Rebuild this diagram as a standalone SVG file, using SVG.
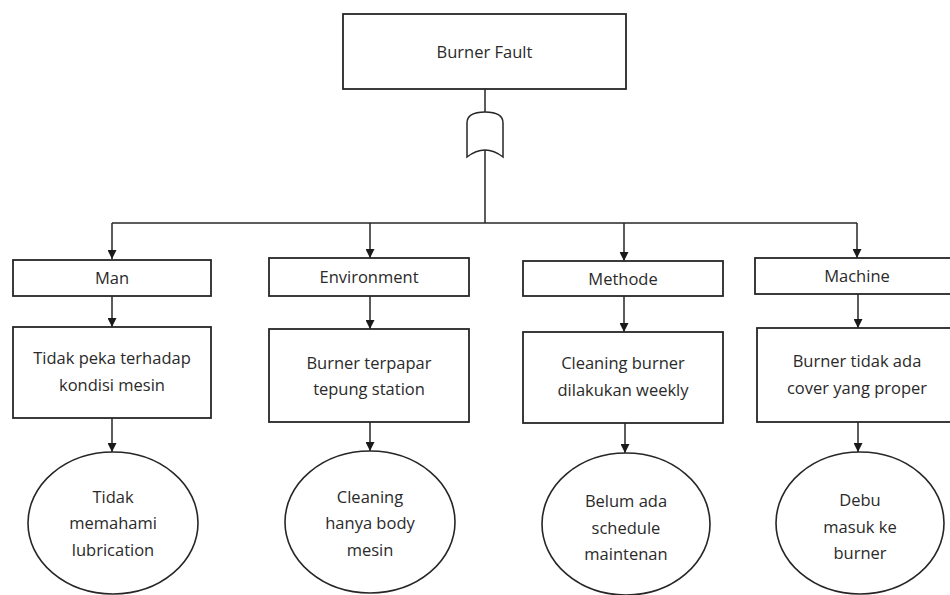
<svg xmlns="http://www.w3.org/2000/svg" width="950" height="595" viewBox="0 0 950 595">
  <style>
    .box { fill: #fff; stroke: #262626; stroke-width: 1.8; }
    .ell { fill: #fff; stroke: #262626; stroke-width: 1.6; }
    .ln { fill: none; stroke: #262626; stroke-width: 1.5; }
    .t { font-family: "Open Sans", "Noto Sans", "DejaVu Sans", sans-serif; font-size: 16.5px; fill: #2a2a2a; text-anchor: middle; }
  </style>
  <defs>
    <marker id="arr" viewBox="0 0 10 10" refX="10" refY="5" markerWidth="9" markerHeight="9" markerUnits="userSpaceOnUse" orient="auto">
      <path d="M0,0 L10,5 L0,10 Z" fill="#1a1a1a"/>
    </marker>
  </defs>

  <!-- top event -->
  <g id="burner-fault">
    <rect class="box" x="343" y="14" width="283" height="75"/>
    <text class="t" x="484.5" y="58">Burner Fault</text>
  </g>

  <!-- OR gate -->
  <g id="or-gate">
    <path class="ln" d="M467,157 L467,123 Q467,112 485,112 Q503,112 503,123 L503,157 Q485,143 467,157 Z" fill="#fff"/>
  </g>

  <g id="connectors">
    <line class="ln" x1="485" y1="89" x2="485" y2="112"/>
    <line class="ln" x1="485" y1="150" x2="485" y2="223"/>
    <line class="ln" x1="112" y1="223" x2="857" y2="223"/>
    <!-- drops to category boxes -->
    <line class="ln" x1="112" y1="223" x2="112" y2="259" marker-end="url(#arr)"/>
    <line class="ln" x1="370" y1="223" x2="370" y2="258" marker-end="url(#arr)"/>
    <line class="ln" x1="624" y1="223" x2="624" y2="261" marker-end="url(#arr)"/>
    <line class="ln" x1="857" y1="223" x2="857" y2="258" marker-end="url(#arr)"/>
    <!-- category to cause -->
    <line class="ln" x1="112" y1="296" x2="112" y2="327" marker-end="url(#arr)"/>
    <line class="ln" x1="370" y1="296" x2="370" y2="329" marker-end="url(#arr)"/>
    <line class="ln" x1="624" y1="296" x2="624" y2="332" marker-end="url(#arr)"/>
    <line class="ln" x1="858" y1="294" x2="858" y2="328" marker-end="url(#arr)"/>
    <!-- cause to root cause -->
    <line class="ln" x1="112" y1="418" x2="112" y2="452" marker-end="url(#arr)"/>
    <line class="ln" x1="370" y1="422" x2="370" y2="451" marker-end="url(#arr)"/>
    <line class="ln" x1="625" y1="423" x2="625" y2="453" marker-end="url(#arr)"/>
    <line class="ln" x1="858" y1="422" x2="858" y2="452" marker-end="url(#arr)"/>
  </g>

  <!-- Man -->
  <g id="man">
    <rect class="box" x="13" y="260" width="198" height="36"/>
    <text class="t" x="112" y="284">Man</text>
  </g>
  <g id="man-cause">
    <rect class="box" x="13" y="327" width="198" height="91"/>
    <text class="t" x="112" y="364">Tidak peka terhadap</text>
    <text class="t" x="112" y="391">kondisi mesin</text>
  </g>
  <g id="man-root">
    <ellipse class="ell" cx="113" cy="523" rx="85" ry="71"/>
    <text class="t" x="113" y="503">Tidak</text>
    <text class="t" x="113" y="529">memahami</text>
    <text class="t" x="113" y="556">lubrication</text>
  </g>

  <!-- Environment -->
  <g id="environment">
    <rect class="box" x="269" y="258" width="200" height="38"/>
    <text class="t" x="369" y="283">Environment</text>
  </g>
  <g id="environment-cause">
    <rect class="box" x="269" y="329" width="200" height="93"/>
    <text class="t" x="369" y="369">Burner terpapar</text>
    <text class="t" x="369" y="395">tepung station</text>
  </g>
  <g id="environment-root">
    <ellipse class="ell" cx="370" cy="522" rx="85" ry="71"/>
    <text class="t" x="370" y="503">Cleaning</text>
    <text class="t" x="370" y="529">hanya body</text>
    <text class="t" x="370" y="556">mesin</text>
  </g>

  <!-- Methode -->
  <g id="methode">
    <rect class="box" x="523" y="261" width="200" height="35"/>
    <text class="t" x="623" y="285">Methode</text>
  </g>
  <g id="methode-cause">
    <rect class="box" x="523" y="332" width="200" height="91"/>
    <text class="t" x="623" y="369">Cleaning burner</text>
    <text class="t" x="623" y="396">dilakukan weekly</text>
  </g>
  <g id="methode-root">
    <ellipse class="ell" cx="626" cy="524" rx="84" ry="71"/>
    <text class="t" x="626" y="507">Belum ada</text>
    <text class="t" x="626" y="534">schedule</text>
    <text class="t" x="626" y="560">maintenan</text>
  </g>

  <!-- Machine -->
  <g id="machine">
    <rect class="box" x="755" y="258" width="202" height="36"/>
    <text class="t" x="857" y="282">Machine</text>
  </g>
  <g id="machine-cause">
    <rect class="box" x="757" y="328" width="200" height="94"/>
    <text class="t" x="857" y="367">Burner tidak ada</text>
    <text class="t" x="857" y="394">cover yang proper</text>
  </g>
  <g id="machine-root">
    <ellipse class="ell" cx="860" cy="523" rx="84" ry="71"/>
    <text class="t" x="860" y="506">Debu</text>
    <text class="t" x="860" y="533">masuk ke</text>
    <text class="t" x="860" y="559">burner</text>
  </g>
</svg>
